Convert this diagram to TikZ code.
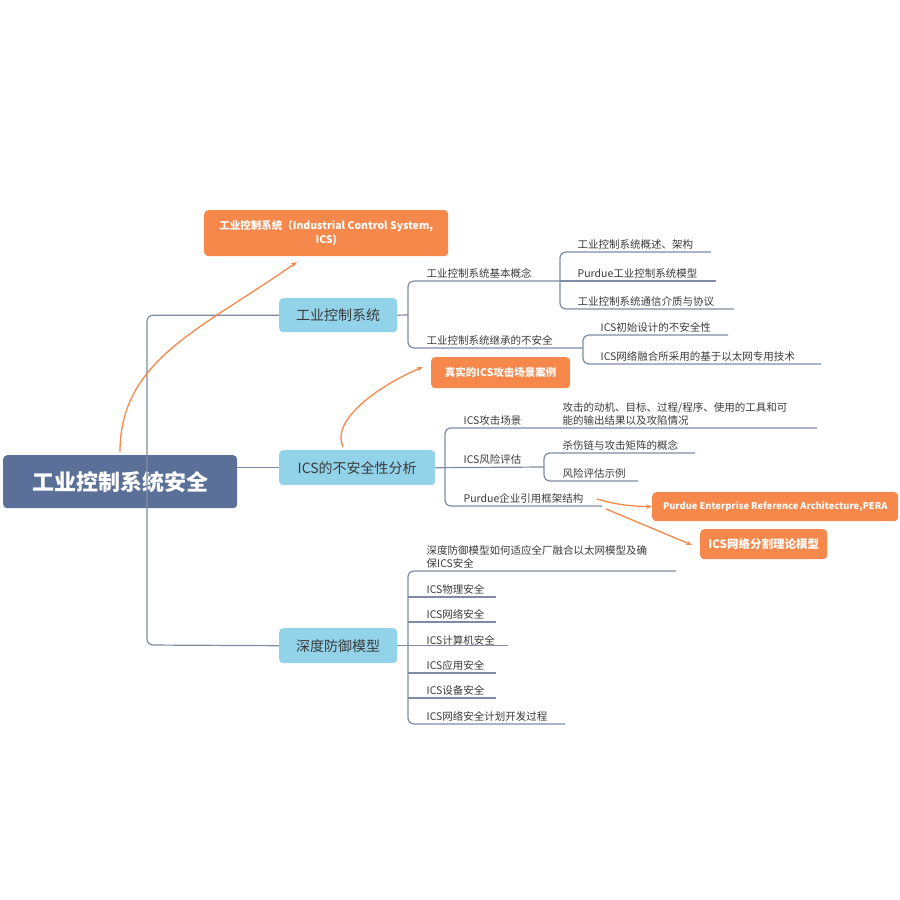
\documentclass[tikz,border=0pt]{standalone}
\usepackage{fontspec}
\setmainfont{Noto Sans CJK SC}
\usetikzlibrary{arrows.meta}
\definecolor{rootc}{HTML}{5B7098}
\definecolor{l1c}{HTML}{93D3EA}
\definecolor{orc}{HTML}{F5884A}
\definecolor{linec}{HTML}{7F8BA3}
\definecolor{txtc}{HTML}{3A3A3A}
\tikzset{
  conn/.style={draw=linec,line width=1.2pt,rounded corners=6pt},
  lf/.style={anchor=south west,inner sep=2.5pt,font=\fontsize{10.5}{13}\selectfont,text=txtc,align=left},
  l1/.style={fill=l1c,rounded corners=4pt,font=\fontsize{14}{16}\selectfont,text=txtc,anchor=north west,inner sep=0pt},
  obox/.style={fill=orc,rounded corners=4pt,text=white,font=\bfseries\fontsize{10.5}{14}\selectfont,anchor=north west,inner sep=0pt,align=center},
  oarr/.style={draw=orc,line width=1.3pt,-{Stealth[length=6pt]}},
}
\begin{document}
\begin{tikzpicture}[x=1pt,y=-1pt]
\useasboundingbox (0,0) rectangle (900,900);
% root & level 1
\node[fill=rootc,rounded corners=4pt,anchor=north west,minimum width=234,minimum height=53,text=white,font=\bfseries\fontsize{22}{24}\selectfont] (root) at (3,455) {工业控制系统安全};
\node[l1,minimum width=118,minimum height=34] (a) at (279,298) {工业控制系统};
\node[l1,minimum width=156,minimum height=35] (b) at (279,450) {ICS的不安全性分析};
\node[l1,minimum width=118,minimum height=35] (c) at (279,628) {深度防御模型};
\draw[conn] (a.west) -| (147,645) -- (c.west);
\draw[conn] (root.east |- b.west) -- (b.west);
% callouts
\node[obox,minimum width=244,minimum height=46] (o1) at (204,210) {工业控制系统（Industrial Control System,\\ICS)};
\node[obox,minimum width=139,minimum height=31] (o2) at (431,357) {真实的ICS攻击场景案例};
\node[obox,minimum width=246,minimum height=29,font=\bfseries\fontsize{9.3}{12}\selectfont] (o3) at (652,492) {Purdue Enterprise Reference Architecture,PERA};
\node[obox,minimum width=127,minimum height=30,font=\bfseries\fontsize{11.5}{14}\selectfont] (o4) at (700,529) {ICS网络分割理论模型};
\coordinate (r1) at (120,452);
\coordinate (t1) at (297,262);
\draw[oarr] (r1) .. controls (120,360) and (200,330) .. (t1);
\coordinate (r2) at (343,447);
\coordinate (t2) at (423,367);
\draw[oarr] (r2) .. controls (330,420) and (380,385) .. (t2);
% branch a
\coordinate (ar) at (408,315);
\node[lf] (a1) at (424,281) {工业控制系统基本概念};
\node[lf] (a2) at (424,348) {工业控制系统继承的不安全};
\draw[conn] (a.east) -- (ar);
\draw[conn] (560,281) -- (408,281) -- (408,348) -- (583,348);
\node[lf] (a11) at (575,252) {工业控制系统概述、架构};
\node[lf] (a12) at (575,281) {Purdue工业控制系统模型};
\node[lf] (a13) at (575,309) {工业控制系统通信介质与协议};
\draw[conn] (711,252) -- (560,252) -- (560,309) -- (734,309);
\draw[conn] (560,281) -- (716,281);
\node[lf] (a21) at (598,335) {ICS初始设计的不安全性};
\node[lf] (a22) at (598,364) {ICS网络融合所采用的基于以太网专用技术};
\draw[conn] (728,335) -- (583,335) -- (583,364) -- (821,364);
% branch b
\node[lf] (b1) at (461,428) {ICS攻击场景};
\node[lf] (b11) at (560,428) {攻击的动机、目标、过程/程序、使用的工具和可\\能的输出结果以及攻陷情况};
\node[lf] (b2) at (461,467) {ICS风险评估};
\node[lf] (b3) at (461,506) {Purdue企业引用框架结构};
\draw[conn] (817,428) -- (445,428) -- (445,506) -- (602,506);
\draw[conn] (b.east) -- (544,467);
\node[lf] (b21) at (560,453) {杀伤链与攻击矩阵的概念};
\node[lf] (b22) at (560,481) {风险评估示例};
\draw[conn] (695,453) -- (544,453) -- (544,481) -- (638,481);
\coordinate (s3) at (597,499);
\coordinate (s4) at (606,509);
\draw[oarr] (s3) .. controls (615,504) and (625,506) .. (o3.west);
\draw[oarr] (s4) -- (692,545);
% branch c
\node[lf] (c1) at (424,571) {深度防御模型如何适应全厂融合以太网模型及确\\保ICS安全};
\node[lf] (c2) at (424,597) {ICS物理安全};
\node[lf] (c3) at (424,622) {ICS网络安全};
\node[lf] (c4) at (424,648) {ICS计算机安全};
\node[lf] (c5) at (424,673) {ICS应用安全};
\node[lf] (c6) at (424,698) {ICS设备安全};
\node[lf] (c7) at (424,724) {ICS网络安全计划开发过程};
\draw[conn] (676,571) -- (408,571) -- (408,724) -- (565,724);
\draw[conn] (c.east) -- (c.east -| 508,0);
\foreach \y in {597,622,673,698} \draw[conn] (408,\y) -- (496,\y);
\end{tikzpicture}
\end{document}
